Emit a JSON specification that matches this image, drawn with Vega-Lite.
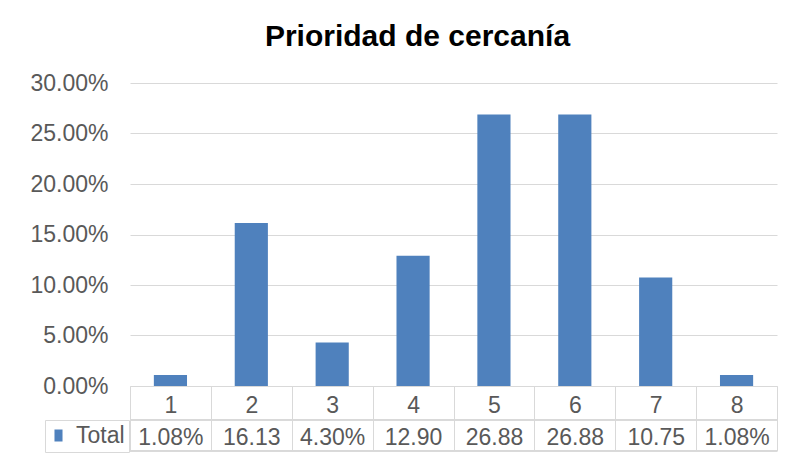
{
  "$schema": "https://vega.github.io/schema/vega-lite/v6.json",
  "autosize": {"type": "none"},
  "width": 647,
  "height": 303,
  "padding": {"left": 130, "top": 83, "right": 13, "bottom": 71},
  "background": "white",
  "title": {
    "text": "Prioridad de cercanía",
    "font": "Liberation Sans",
    "fontSize": 30,
    "fontWeight": "bold",
    "color": "#000000",
    "anchor": "middle",
    "dx": -36,
    "offset": 20
  },
  "config": {
    "font": "Liberation Sans",
    "view": {"stroke": null}
  },
  "data": {
    "values": [
      {"categoria": "1|1.08%", "porcentaje": 0.0108, "serie": "Total"},
      {"categoria": "2|16.13", "porcentaje": 0.1613, "serie": "Total"},
      {"categoria": "3|4.30%", "porcentaje": 0.0430, "serie": "Total"},
      {"categoria": "4|12.90", "porcentaje": 0.1290, "serie": "Total"},
      {"categoria": "5|26.88", "porcentaje": 0.2688, "serie": "Total"},
      {"categoria": "6|26.88", "porcentaje": 0.2688, "serie": "Total"},
      {"categoria": "7|10.75", "porcentaje": 0.1075, "serie": "Total"},
      {"categoria": "8|1.08%", "porcentaje": 0.0108, "serie": "Total"}
    ]
  },
  "layer": [
    {
      "mark": {"type": "bar", "width": {"band": 0.41}},
      "encoding": {
        "x": {
          "field": "categoria",
          "type": "nominal",
          "sort": null,
          "scale": {"paddingInner": 0, "paddingOuter": 0},
          "axis": {
            "title": null,
            "labelAngle": 0,
            "labelExpr": "isValid(datum.value) ? split(datum.value, '|') : ''",
            "labelFontSize": 23,
            "labelColor": "#595959",
            "labelLineHeight": 32,
            "labelPadding": -57,
            "tickBand": "extent",
            "tickSize": 65,
            "tickColor": "#d9d9d9",
            "domainColor": "#d9d9d9",
            "grid": false
          }
        },
        "y": {
          "field": "porcentaje",
          "type": "quantitative",
          "scale": {"domain": [0, 0.3], "nice": false},
          "axis": {
            "title": null,
            "values": [0, 0.05, 0.1, 0.15, 0.2, 0.25, 0.3],
            "format": ".2%",
            "labelFontSize": 23,
            "labelColor": "#595959",
            "labelPadding": 22,
            "domain": false,
            "ticks": false,
            "gridColor": "#d9d9d9",
            "gridWidth": 1
          }
        },
        "color": {
          "field": "serie",
          "type": "nominal",
          "scale": {"range": ["#4f81bd"]},
          "legend": {
            "title": null,
            "orient": "none",
            "legendX": -85,
            "legendY": 337,
            "symbolType": "M-0.67,-1H0.67V1H-0.67Z",
            "symbolSize": 144,
            "symbolStrokeWidth": 0,
            "symbolOffset": -2,
            "labelOffset": 6,
            "labelFontSize": 23,
            "labelColor": "#595959",
            "padding": 4,
            "strokeColor": "#d9d9d9"
          }
        }
      }
    },
    {
      "mark": {"type": "rule", "color": "#d9d9d9", "strokeWidth": 1},
      "encoding": {"y": {"datum": -0.0337}}
    },
    {
      "mark": {"type": "rule", "color": "#d9d9d9", "strokeWidth": 1},
      "encoding": {"y": {"datum": -0.0644}}
    }
  ]
}
